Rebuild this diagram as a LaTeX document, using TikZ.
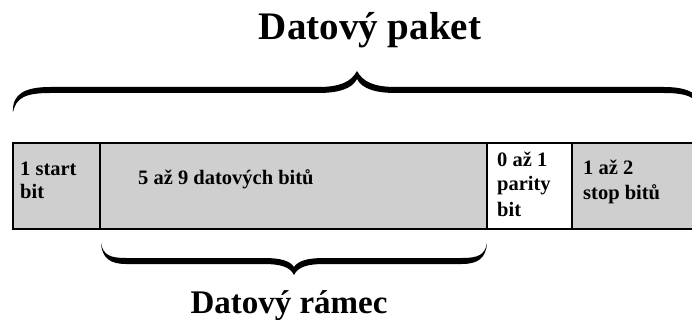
\documentclass[tikz,border=0pt]{standalone}
\usepackage{fontspec}
\setmainfont{Liberation Serif}
\definecolor{cellgray}{RGB}{207,207,207}
\begin{document}
\begin{tikzpicture}[x=1pt,y=-1pt,
  cell/.style={draw=black, line width=2.4pt, fill=cellgray, minimum height=86pt, inner sep=0pt},
  celltext/.style={anchor=base west, inner sep=0pt, font=\fontsize{20.5}{24}\selectfont\bfseries},
  title/.style={anchor=base, inner sep=0pt, font=\fontsize{39}{44}\selectfont\bfseries},
  subtitle/.style={anchor=base, inner sep=0pt, font=\fontsize{33}{38}\selectfont\bfseries},
  bracefill/.style={fill=black}]
\useasboundingbox (0,0) rectangle (692,320);
\clip (0,0) rectangle (692,320);

% cells
\node[cell, minimum width=87pt] (c1) at (56.5,186) {};
\node[cell, minimum width=387pt] (c2) at (293.5,186) {};
\node[cell, minimum width=85pt, fill=white] (c3) at (529.5,186) {};
\node[cell, minimum width=140pt] (c4) at (642,186) {};

% cell texts
\node[celltext] (t1a) at (20,176) {1 start};
\node[celltext] (t1b) at (20,198) {bit};
\node[celltext] (t2) at (138,185) {5 až 9 datových bitů};
\node[celltext] (t3a) at (497,167) {0 až 1};
\node[celltext] (t3b) at (497,191) {parity};
\node[celltext] (t3c) at (497,216) {bit};
\node[celltext] (t4a) at (583,175) {1 až 2};
\node[celltext] (t4b) at (583,200) {stop bitů};

% top brace
\fill[bracefill] (13,112) .. controls (12,94) and (25,87) .. (50,87) -- (318,87)
  .. controls (340,87) and (351,82) .. (357,71)
  .. controls (363,82) and (374,87) .. (396,87) -- (664,87)
  .. controls (689,87) and (702,94) .. (701,112)
  .. controls (698,98) and (689,93) .. (664,93) -- (396,93)
  .. controls (376,93) and (362,89) .. (357,79)
  .. controls (352,89) and (338,93) .. (318,93) -- (50,93)
  .. controls (25,93) and (16,98) .. (13,112) -- cycle;

% bottom brace
\fill[bracefill] (101,243) .. controls (103,255) and (110,258) .. (126,258) -- (264,258)
  .. controls (281,258) and (290,261) .. (294,267)
  .. controls (298,261) and (307,258) .. (324,258) -- (462,258)
  .. controls (478,258) and (485,255) .. (487,243)
  .. controls (486,258) and (478,264) .. (462,264) -- (324,264)
  .. controls (307,264) and (298,267) .. (294,275)
  .. controls (290,267) and (281,264) .. (264,264) -- (126,264)
  .. controls (110,264) and (102,258) .. (101,243) -- cycle;

% titles
\node[title] (paket) at (370,40) {Datový paket};
\node[subtitle] (ramec) at (289,313) {Datový rámec};
\end{tikzpicture}
\end{document}
